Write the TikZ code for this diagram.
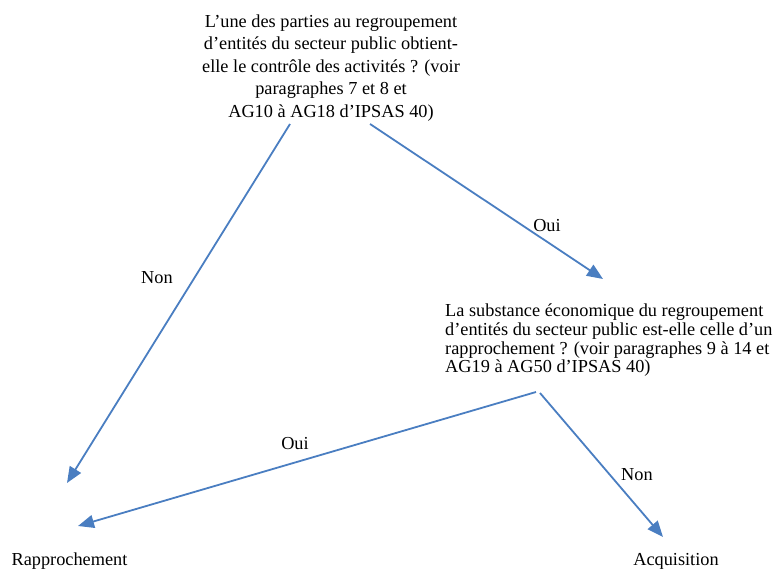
\documentclass[tikz,border=0pt]{standalone}
\usepackage{fontspec}
\setmainfont{Liberation Serif}
\usetikzlibrary{arrows.meta}
\definecolor{flowblue}{RGB}{74,126,193}
\tikzset{
  txt/.style={inner sep=0pt, font=\fontsize{18.3}{22.5}\selectfont},
  question/.style={txt, align=center},
  answerbox/.style={txt, align=left, font=\fontsize{18.3}{18.6}\selectfont},
  edgelabel/.style={txt},
  flow/.style={draw=flowblue, line width=1.8pt,
    -{Triangle[length=16pt,width=13pt]}},
}
\begin{document}
\begin{tikzpicture}[x=1pt,y=-1pt]
  \useasboundingbox (0,0) rectangle (782,572);

  % decision texts
  \node[question, anchor=north] (q1) at (331,14.5)
    {L’une des parties au regroupement\\
     d’entités du secteur public obtient-\\
     elle le contrôle des activités ? (voir\\
     paragraphes 7 et 8 et\\
     AG10 à AG18 d’IPSAS 40)};
  \node[answerbox, anchor=north west] (q2) at (445,304)
    {La substance économique du regroupement\\
     d’entités du secteur public est-elle celle d’un\\
     rapprochement ? (voir paragraphes 9 à 14 et\\
     AG19 à AG50 d’IPSAS 40)};

  % outcomes
  \node[txt] (rap) at (69.5,561) {Rapprochement};
  \node[txt] (acq) at (676,561) {Acquisition};

  % connector ends
  \coordinate (q1l) at (290,124);
  \coordinate (q1r) at (370,124);
  \coordinate (q2l) at (536,392);
  \coordinate (q2r) at (540,393);
  \coordinate (rapa) at (67,483);
  \coordinate (rapb) at (78,526);
  \coordinate (q2in) at (603,279);
  \coordinate (acqin) at (663,537);

  \draw[flow] (q1l) -- (rapa);
  \draw[flow] (q1r) -- (q2in);
  \draw[flow] (q2l) -- (rapb);
  \draw[flow] (q2r) -- (acqin);

  % branch labels
  \node[edgelabel] (non1) at (157,278) {Non};
  \node[edgelabel] (oui1) at (547,226) {Oui};
  \node[edgelabel] (oui2) at (295,444) {Oui};
  \node[edgelabel] (non2) at (637,475) {Non};
\end{tikzpicture}
\end{document}
